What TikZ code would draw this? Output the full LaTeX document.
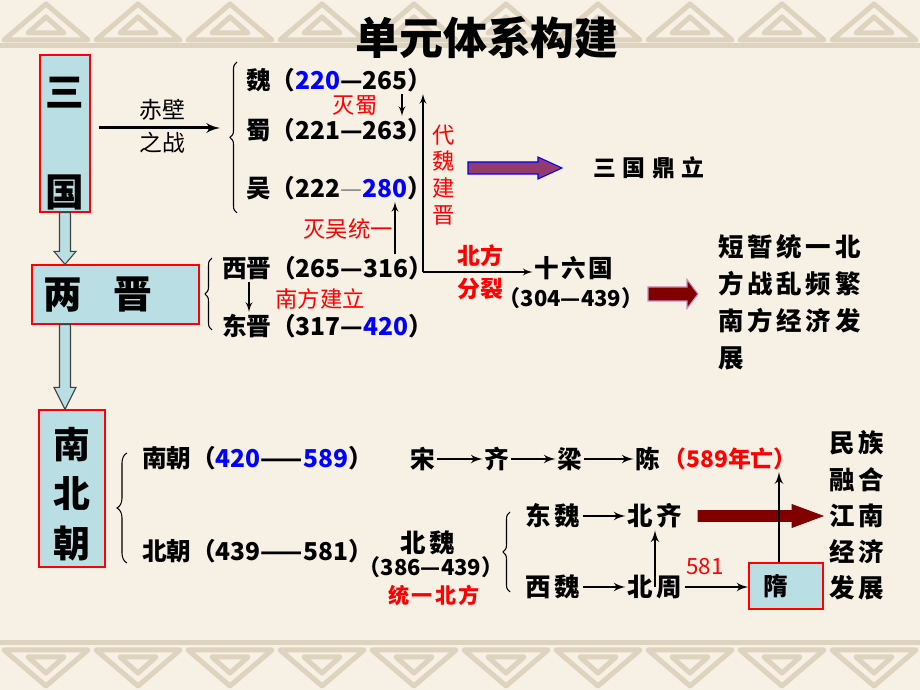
\documentclass[tikz,border=0pt]{standalone}
\usepackage{fontspec}
\setmainfont{Noto Sans CJK SC}
\usetikzlibrary{arrows,calc,decorations.pathreplacing,positioning}

\definecolor{paper}{HTML}{F7F0E4}
\definecolor{knotc}{HTML}{DDD3BE}
\definecolor{boxblue}{HTML}{B9DFE4}
\definecolor{plum}{HTML}{933A6E}
\definecolor{maroon}{HTML}{800000}

% block arrows: tail, tip, head length
\newcommand{\downblock}[3]{%
  \draw[hollow] ($(#1)+(-5.5,0)$) -- ($(#1)+(5.5,0)$) -- ($(#2)+(5.5,-#3)$)
    -- ($(#2)+(11,-#3)$) -- (#2) -- ($(#2)+(-11,-#3)$) -- ($(#2)+(-5.5,-#3)$) -- cycle;}
% style, tail, tip, half shaft, half head, head length
\newcommand{\rightblock}[6]{%
  \draw[#1] ($(#2)+(0,-#4)$) -- ($(#3)+(-#6,-#4)$) -- ($(#3)+(-#6,-#5)$) -- (#3)
    -- ($(#3)+(-#6,#5)$) -- ($(#3)+(-#6,#4)$) -- ($(#2)+(0,#4)$) -- cycle;}

\begin{document}
\begin{tikzpicture}
[x=0.2mm,y=-0.2mm,>=latex',
period/.style={draw=red,fill=boxblue,line width=0.7pt,inner sep=0pt,align=center,
  font=\bfseries\fontsize{22}{56.7}\selectfont},
hollow/.style={draw=black!75,fill=boxblue,line width=0.6pt},
txt/.style={inner sep=1pt,font=\bfseries\fontsize{14}{16}\selectfont},
small/.style={inner sep=1pt,font=\bfseries\fontsize{12.5}{14}\selectfont},
wide/.style={inner sep=1pt,align=center,
  font=\bfseries\fontsize{14.5}{#1}\selectfont\addfontfeatures{LetterSpace=15}},
wide/.default=16pt,
redtxt/.style={inner sep=1pt,text=red,align=center,font=\fontsize{12.7}{#1}\selectfont},
redtxt/.default=15pt,
redbold/.style={inner sep=1pt,text=red,align=center,font=\bfseries\fontsize{13}{#1}\selectfont},
redbold/.default=15pt,
link/.style={->,line width=0.9pt},
midlink/.style={->,line width=1.3pt},
boldlink/.style={->,line width=1.7pt},
curly/.style={decorate,decoration={brace,amplitude=#1},line width=0.6pt},
curly/.default=1.4mm,
knot/.style={draw=knotc,line width=1mm,line join=round}]
\useasboundingbox (0,0) rectangle (920,690);
% paper and borders
\fill[paper] (0,0) rectangle (920,690);
\begin{scope}
\clip (0,0) rectangle (920,690);
\draw[knot] (0,643) -- (920,643);
\draw[knot] (0,46) -- (920,46);
\foreach \x in {0,92,...,920} {
  \draw[knot] (\x+4,650) -- (\x+88,650) -- (\x+46,686) -- cycle;
  \draw[knot] (\x+28,657) -- (\x+64,657) -- (\x+46,673) -- cycle;
  \draw[knot] (\x+4,40) -- (\x+88,40) -- (\x+46,4) -- cycle;
  \draw[knot] (\x+28,33) -- (\x+64,33) -- (\x+46,17) -- cycle;
}
\end{scope}

\node[font=\bfseries\fontsize{25}{28}\selectfont] (title) at (487,38) {单元体系构建};

% periods on the left
\node[period,minimum width=10mm,minimum height=31.4mm] (sanguo) at (65,133.5) {\rule{0pt}{28pt}三\\国};
\node[period,minimum width=33.4mm,minimum height=11.8mm] (liangjin) at (115.5,294.5) {两\hspace{18pt}晋\hspace{20pt}};
\node[period,minimum width=13.2mm,minimum height=31.4mm,font=\bfseries\fontsize{21}{28.3}\selectfont] (nanbei) at (72,488.5) {\rule{0pt}{24pt}南\\北\\朝};
\coordinate (t1) at (sanguo.south |- liangjin.north);
\coordinate (s2) at (sanguo.south |- liangjin.south);
\coordinate (t2) at (sanguo.south |- nanbei.north);
\downblock{sanguo.south}{t1}{13}
\downblock{s2}{t2}{22}

% three kingdoms
\coordinate (cb) at (220,128);
\draw[boldlink,shorten <=1.6mm] (sanguo.east |- cb) -- (cb);
\node[txt,font=\fontsize{13}{18.7}\selectfont,align=center] (chibi) at (162,126.5) {赤壁\\之战};
\draw[curly] (237,213) -- (237,62);
\node[txt,anchor=west] (wei) at (244,80) {魏（\textcolor{blue}{220}—265）};
\node[txt,anchor=west] (shu) at (244,130) {蜀（221—263）};
\node[txt,anchor=west] (wu) at (244,188) {吴（222{\mdseries\color{gray}—}\textcolor{blue}{280}）};
\node[redtxt] (mieshu) at (355,105) {灭蜀};
\coordinate (xa) at (402,0);
\draw[link] (wei.south -| xa) -- (shu.north -| xa);

% two Jin
\draw[curly] (212,330) -- (212,258);
\node[txt,anchor=west] (xijin) at (220,268) {西晋（265—316）};
\node[txt,anchor=west] (dongjin) at (220,326) {东晋（317—\textcolor{blue}{420}）};
\coordinate (xb) at (395,0);
\draw[link] (xijin.north -| xb) -- (wu.south -| xb);
\node[redtxt] (miewu) at (348,229) {灭吴统一};
\coordinate (xc) at (249,0);
\draw[link] (xijin.south -| xc) -- (dongjin.north -| xc);
\node[redtxt] (nanfang) at (320,299) {南方建立};

\node[redtxt=15.3pt] (daiwei) at (444,175) {代\\魏\\建\\晋};
\node[redbold=18.7pt] (beifang) at (480,272.5) {北方\\分裂};
\node[txt,font=\bfseries\fontsize{14}{16}\selectfont\addfontfeatures{LetterSpace=10}] (shiliu) at (574,268) {十六国};
\node[small] (shiliuyr) at (571,298) {（304—439）};
\coordinate (jin) at (423,272);
\draw[link] (jin) -- (jin |- wei.south);
\draw[link] (jin) -- (jin -| shiliu.west);

\coordinate (p1) at (468,168);
\coordinate (p2) at (562,168);
\rightblock{draw=blue,fill=plum,line width=0.6pt}{p1}{p2}{6}{11}{24}
\node[txt,font=\bfseries\fontsize{13}{15}\selectfont\addfontfeatures{LetterSpace=28}] (dingli) at (649,168) {三国鼎立};

\coordinate (r1a) at (648,294);
\coordinate (r1b) at (698,294);
\rightblock{draw=violet!45,fill=maroon,line width=0.6pt}{r1a}{r1b}{7}{14.5}{11}
\node[wide=21pt,align=left,anchor=west] (summary) at (716,302.5) {短暂统一北\\方战乱频繁\\南方经济发\\展};

% southern and northern dynasties
\draw[curly=2mm] (127,563) -- (127,453);
\node[txt,anchor=west] (nanchao) at (140,458) {南朝（\textcolor{blue}{420}——\textcolor{blue}{589}）};
\node[txt,anchor=west] (beichao) at (140,551) {北朝（439——581）};

\node[txt] (song) at (423,459) {宋};
\node[txt] (qi) at (497,459) {齐};
\node[txt] (liang) at (570,459) {梁};
\node[txt] (chen) at (648,459) {陈};
\draw[midlink] (song) -- (qi);
\draw[midlink] (qi) -- (liang);
\draw[midlink] (liang) -- (chen);
\node[redbold] (wang) at (730,459) {（589年亡）};

\node[wide] (beiwei) at (428,543) {北魏};
\node[small] (beiweiyr) at (431,567) {（386—439）};
\node[redbold,font=\bfseries\fontsize{12}{14}\selectfont\addfontfeatures{LetterSpace=10}] (tongyi) at (434,595) {统一北方};

\draw[curly] (510,592) -- (510,512);
\node[wide] (dongwei) at (553,516) {东魏};
\node[wide] (beiqi) at (655,516) {北齐};
\node[wide] (xiwei) at (553,587) {西魏};
\node[wide] (beizhou) at (655,587) {北周};
\draw[midlink] (dongwei) -- (beiqi);
\draw[midlink] (xiwei) -- (beizhou);
\draw[midlink] (beizhou.center) -- (beiqi.south);

\node[period,minimum width=14.8mm,minimum height=9.2mm,font=\bfseries\fontsize{14}{16}\selectfont] (sui) at (786,586) {隋\hspace{12pt}};
\node[redtxt] (n581) at (705,567) {581};
\draw[midlink] (beizhou.east) -- (beizhou.east -| sui.west);

\coordinate (r2a) at (698,516);
\coordinate (r2b) at (823,516);
\rightblock{draw=maroon,fill=maroon,line width=0.4pt}{r2a}{r2b}{5.5}{11.5}{31}
\coordinate (xd) at (779,0);
\draw[midlink] (sui.north -| xd) -- (wang.south -| xd);

\node[wide=20.6pt] (minzu) at (857,515.5) {民族\\融合\\江南\\经济\\发展};
\end{tikzpicture}
\end{document}
